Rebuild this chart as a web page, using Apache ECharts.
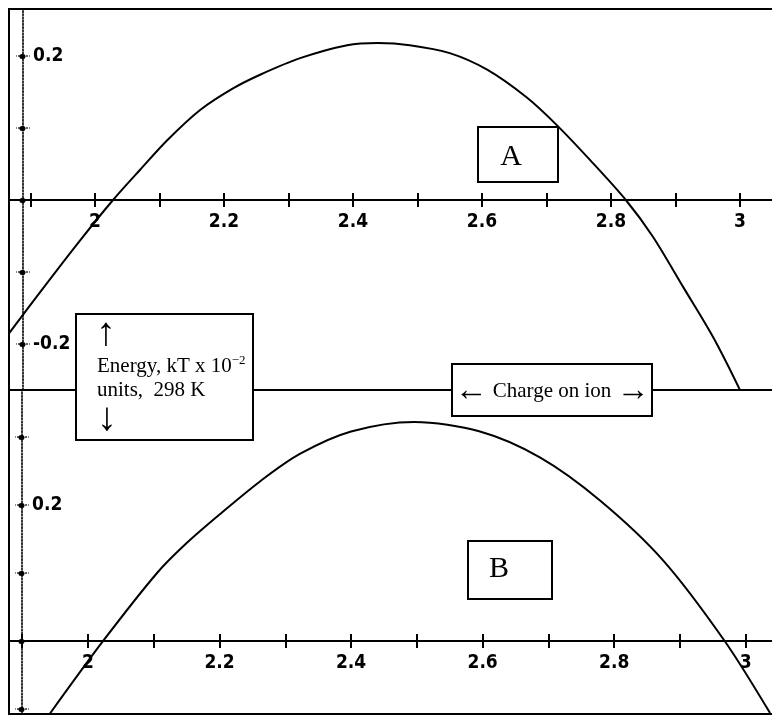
<!DOCTYPE html>
<html>
<head>
<meta charset="utf-8">
<script src="https://cdn.jsdelivr.net/npm/echarts@6/dist/echarts.min.js"></script>
<style>
  html, body { margin: 0; padding: 0; background: #fff; }
  #chart { width: 772px; height: 715px; }
</style>
</head>
<body>
<div id="chart"></div>
<script>
// Energy (kT x 10^-2, 298 K) against charge on ion, two cases A and B
const chargeA = [1.867, 1.92, 1.977, 2.028, 2.07, 2.112, 2.163, 2.214, 2.256, 2.318, 2.391, 2.439, 2.488, 2.55, 2.608, 2.67, 2.716, 2.767, 2.823, 2.865, 2.912, 2.958, 3.0];
const energyA = [-0.185, -0.122, -0.056, 0.0, 0.042, 0.083, 0.125, 0.155, 0.174, 0.197, 0.215, 0.218, 0.215, 0.204, 0.181, 0.142, 0.104, 0.056, 0.0, -0.051, -0.121, -0.19, -0.264];

const chargeB = [1.942, 2.023, 2.105, 2.15, 2.2, 2.262, 2.322, 2.4, 2.496, 2.596, 2.687, 2.778, 2.874, 2.968, 3.037];
const energyB = [-0.107, 0.0, 0.1, 0.144, 0.186, 0.235, 0.275, 0.308, 0.322, 0.308, 0.27, 0.207, 0.119, 0.0, -0.106];

// axis ticks and labels
const xTicks = [1.9, 2.0, 2.1, 2.2, 2.3, 2.4, 2.5, 2.6, 2.7, 2.8, 2.9, 3.0];
const xLabels = [2, 2.2, 2.4, 2.6, 2.8, 3];
const yTicksA = [-0.2, -0.1, 0, 0.1, 0.2];
const yLabelsA = [0.2, -0.2];
const yTicksB = [-0.1, 0, 0.1, 0.2, 0.3];
const yLabelsB = [0.2];

// panel geometry (pixels) and value ranges
const panels = [
  { left: 9, top: 9, width: 765, height: 381, xMin: 1.8667, xMax: 3.0527, yMin: -0.2639, yMax: 0.2653, yAxisShift: -14 },
  { left: 9, top: 390, width: 765, height: 324, xMin: 1.8799, xMax: 3.043, yMin: -0.1074, yMax: 0.3691, yAxisShift: -13 }
];

const tickFont = {
  color: '#000',
  fontFamily: "'DejaVu Sans Condensed', 'DejaVu Sans', sans-serif",
  fontWeight: 'bold',
  fontSize: 19
};

// x axis drawn through energy = 0, ticks crossing the line on both sides
function xAxesFor(gridIndex, p) {
  const zeroShift = -p.height * (-p.yMin) / (p.yMax - p.yMin);
  const base = {
    type: 'value', gridIndex: gridIndex, min: p.xMin, max: p.xMax, position: 'bottom',
    offset: zeroShift, splitLine: { show: false }
  };
  const tickLine = { color: '#000', width: 2 };
  return [
    Object.assign({}, base, {
      axisLine: { show: true, onZero: false, lineStyle: { color: '#000', width: 2 } },
      axisTick: { show: true, inside: false, length: 7, customValues: xTicks, lineStyle: tickLine },
      axisLabel: Object.assign({ show: true, margin: 13, customValues: xLabels }, tickFont)
    }),
    Object.assign({}, base, {
      axisLine: { show: false, onZero: false },
      axisTick: { show: true, inside: true, length: 7, customValues: xTicks, lineStyle: tickLine },
      axisLabel: { show: false }
    })
  ];
}

// dotted y axis with dot ticks and short dotted cross marks
function yAxesFor(gridIndex, p, ticks, labels) {
  const base = {
    type: 'value', gridIndex: gridIndex, min: p.yMin, max: p.yMax, position: 'left', offset: p.yAxisShift,
    splitLine: { show: false }
  };
  const dotted = { color: '#000', width: 1.6, type: [1.6, 1.6] };
  return [
    Object.assign({}, base, {
      axisLine: { show: true, onZero: false, lineStyle: dotted },
      axisTick: { show: true, inside: false, length: 7, customValues: ticks, lineStyle: dotted },
      axisLabel: Object.assign({ show: true, inside: true, margin: 10, customValues: labels }, tickFont)
    }),
    Object.assign({}, base, {
      axisLine: { show: false, onZero: false },
      axisTick: { show: true, inside: true, length: 7, customValues: ticks, lineStyle: dotted },
      axisLabel: { show: false }
    }),
    Object.assign({}, base, {
      axisLine: { show: false, onZero: false },
      axisTick: { show: true, inside: false, length: 1, customValues: ticks, lineStyle: { color: '#000', width: 5, cap: 'round' } },
      axisLabel: { show: false }
    })
  ];
}

const gridStyle = { show: true, borderColor: '#000', borderWidth: 2, backgroundColor: 'transparent', containLabel: false, outerBoundsMode: 'none' };

const serif = "'Liberation Serif', 'Times New Roman', serif";
function box(x, y, w, h) {
  return { type: 'rect', z: 100, shape: { x: x, y: y, width: w, height: h }, style: { fill: '#fff', stroke: '#000', lineWidth: 2 } };
}
function label(text, x, y, size, align) {
  return { type: 'text', z: 101, style: { text: text, x: x, y: y, font: size + 'px ' + serif, fill: '#000', align: align || 'left', verticalAlign: 'middle' } };
}

const chart = echarts.init(document.getElementById('chart'), null, { renderer: 'canvas' });
chart.setOption({
  animation: false,
  backgroundColor: '#fff',
  grid: panels.map(p => Object.assign({ left: p.left, top: p.top, width: p.width, height: p.height }, gridStyle)),
  xAxis: [].concat(xAxesFor(0, panels[0]), xAxesFor(1, panels[1])),
  yAxis: [].concat(yAxesFor(0, panels[0], yTicksA, yLabelsA), yAxesFor(1, panels[1], yTicksB, yLabelsB)),
  series: [
    {
      name: 'A', type: 'line', xAxisIndex: 0, yAxisIndex: 0,
      data: chargeA.map((c, i) => [c, energyA[i]]),
      showSymbol: false, smooth: 0.3,
      lineStyle: { color: '#000', width: 2 }
    },
    {
      name: 'B', type: 'line', xAxisIndex: 2, yAxisIndex: 3,
      data: chargeB.map((c, i) => [c, energyB[i]]),
      showSymbol: false, smooth: 0.3,
      lineStyle: { color: '#000', width: 2 }
    }
  ],
  graphic: [
    box(478, 127, 80, 55),
    label('A', 511, 157, 30, 'center'),
    box(468, 541, 84, 58),
    label('B', 499, 569, 30, 'center'),
    box(76, 314, 177, 126),
    label('\u2191', 106, 334, 40, 'center'),
    {
      type: 'text', z: 101,
      style: {
        x: 97, y: 366, verticalAlign: 'middle',
        text: '{b|Energy, kT x 10}{s|\u22122}',
        rich: {
          b: { fontFamily: serif, fontSize: 21, fill: '#000', verticalAlign: 'middle', lineHeight: 24 },
          s: { fontFamily: serif, fontSize: 13, fill: '#000', verticalAlign: 'top', lineHeight: 24 }
        }
      }
    },
    label('units,  298 K', 97, 390, 21),
    label('\u2193', 107, 419, 40, 'center'),
    box(452, 364, 200, 52),
    {
      type: 'text', z: 101,
      style: {
        x: 552, y: 391, align: 'center', verticalAlign: 'middle',
        text: '{a|\u2190}{b| Charge on ion }{a|\u2192}',
        rich: {
          a: { fontFamily: serif, fontSize: 33, fill: '#000', verticalAlign: 'middle', lineHeight: 34 },
          b: { fontFamily: serif, fontSize: 21, fill: '#000', verticalAlign: 'middle', lineHeight: 34 }
        }
      }
    }
  ]
});
</script>
</body>
</html>
